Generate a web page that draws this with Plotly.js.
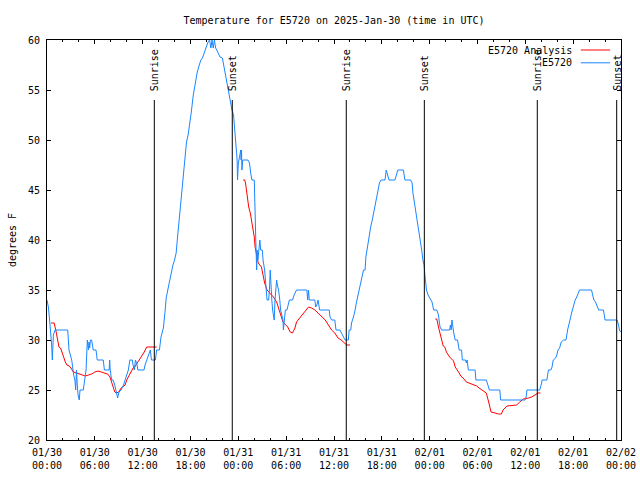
<!DOCTYPE html>
<html>
<head>
<meta charset="utf-8">
<script src="https://cdn.plot.ly/plotly-3.0.1.min.js"></script>
<style>html,body{margin:0;padding:0;background:#fff;}#chart{width:640px;height:480px;}</style>
</head>
<body>
<div id="chart"></div>
<script>
// Hours since 2025-01-30 00:00 UTC
var obsHours = [0.0,0.17,0.33,0.46,0.58,0.67,0.8,1.0,2.6,2.76,2.9,3.1,3.35,3.5,3.6,3.7,3.8,3.9,4.05,4.14,4.55,4.7,4.9,5.06,5.2,5.27,5.35,5.45,5.6,5.8,6.15,6.3,7.06,7.2,7.8,7.86,7.93,8.1,8.3,8.5,8.75,8.86,9.03,9.3,9.6,9.8,10.0,10.2,10.4,10.7,10.8,10.95,11.1,11.3,11.4,12.17,12.3,12.5,12.7,12.96,13.1,13.6,13.75,14.1,14.3,14.6,14.8,14.95,15.2,15.5,15.8,16.0,16.2,16.4,16.65,16.9,17.1,17.3,17.5,17.7,17.9,18.1,18.35,18.6,18.85,19.1,19.3,19.5,19.7,19.95,20.2,20.4,20.55,20.7,20.85,21.0,21.15,21.3,21.5,21.7,22.0,22.2,22.45,22.75,23.0,23.2,23.4,23.5,23.6,23.75,23.85,23.9,24.0,24.15,24.3,24.35,24.4,24.45,24.55,25.2,25.4,25.55,25.7,26.0,26.1,26.2,26.3,26.35,26.45,26.7,26.8,27.0,27.1,27.3,27.5,27.6,27.8,27.9,28.0,28.1,28.2,28.3,28.4,28.5,28.6,28.8,28.9,29.05,29.2,29.3,29.45,29.6,29.65,29.75,29.9,30.1,30.4,30.8,31.0,31.3,32.6,32.7,32.8,32.9,33.6,33.7,33.85,34.0,34.2,35.4,35.5,35.7,36.1,36.25,36.75,37.25,37.4,37.8,37.9,38.1,38.2,38.4,38.6,38.8,39.05,39.3,39.5,39.7,39.9,40.0,40.2,40.4,40.6,40.8,41.0,41.2,41.45,41.7,41.9,42.4,42.55,42.7,42.9,43.65,43.8,44.0,44.7,44.8,44.9,45.6,45.8,45.9,46.1,46.3,46.5,46.6,46.8,47.0,47.15,47.3,47.4,47.5,47.6,47.8,48.05,48.3,48.5,48.9,49.1,49.2,49.3,49.5,50.5,50.6,50.7,50.8,50.9,51.0,51.2,51.5,51.6,51.7,52.0,52.1,52.5,52.6,52.7,52.85,53.7,53.8,55.1,55.3,55.5,56.8,56.9,59.96,60.1,60.2,61.8,62.05,62.1,62.7,62.9,63.2,63.35,63.5,63.8,63.95,64.1,64.3,64.5,64.8,65.1,65.3,65.45,65.6,65.8,65.95,66.1,66.25,66.45,66.6,66.8,68.3,68.45,68.6,68.8,69.0,69.2,69.8,69.9,70.0,71.5,71.7,71.8,71.95];
var obsTemps = [34.0,33.3,32.0,31.0,29.5,28.0,30.5,31.0,31.0,29.0,28.5,28.0,26.5,26.0,25.0,27.0,25.5,24.5,24.0,25.0,25.0,26.0,27.0,30.0,29.0,29.8,29.2,30.0,30.0,29.0,29.0,28.0,28.0,27.0,27.0,28.0,27.0,26.0,26.0,25.5,24.5,24.2,24.8,25.0,25.5,26.0,26.5,27.0,28.0,28.0,27.5,27.0,28.0,27.5,27.0,27.0,27.5,28.0,28.5,29.0,28.0,28.0,29.0,29.0,30.3,31.2,32.8,34.2,35.2,36.5,37.5,38.0,38.7,40.5,42.5,44.5,46.5,48.2,49.8,50.5,51.5,52.8,54.5,55.8,56.8,57.5,58.0,58.2,58.7,59.2,59.8,60.0,59.2,60.0,59.2,60.0,59.2,59.0,58.7,58.3,58.2,57.3,56.2,55.2,53.8,53.0,52.5,51.5,50.5,49.5,48.0,46.0,47.7,48.3,49.0,48.0,49.0,47.0,48.0,48.0,47.7,46.7,46.0,46.0,43.8,39.7,37.0,39.0,38.0,40.0,39.0,39.0,38.0,37.0,35.0,34.0,34.0,35.0,37.0,35.0,34.0,33.0,32.3,32.0,34.0,36.0,35.5,35.0,34.0,33.0,32.5,32.0,31.0,32.0,33.0,33.0,34.0,34.0,34.5,35.0,35.0,34.0,35.0,34.0,34.0,33.3,33.5,34.0,33.0,33.0,32.3,32.0,32.0,31.0,31.0,30.2,30.0,30.0,31.0,31.0,31.7,32.2,32.8,33.7,34.7,35.5,36.5,37.0,37.0,38.3,39.3,40.5,41.3,42.0,42.8,43.7,44.7,45.7,46.0,46.0,47.0,46.5,46.0,46.0,46.5,47.0,47.0,46.5,46.0,46.0,45.7,44.7,43.7,42.7,41.8,41.0,40.0,39.0,38.0,37.5,36.5,35.7,35.0,34.5,34.2,33.8,33.0,33.0,32.5,32.0,31.3,31.0,31.0,31.5,31.0,32.0,31.0,30.8,30.0,30.0,29.5,29.0,29.0,28.0,28.0,27.7,28.0,27.0,27.0,26.0,26.0,25.5,25.0,25.0,24.0,24.0,24.3,25.0,25.0,25.7,26.0,26.0,27.0,27.0,27.3,28.0,28.2,28.5,29.0,29.2,29.8,30.0,30.0,31.0,31.7,32.0,32.7,33.2,33.7,34.0,34.3,34.7,35.0,35.0,34.3,34.0,33.8,33.3,33.0,33.0,32.3,32.0,32.0,31.5,31.0,30.8];

var anaHours = [0.5,0.9,1.1,1.34,1.5,1.7,1.9,2.1,2.3,2.5,2.8,3.0,3.3,3.7,4.3,4.8,5.2,5.6,6.0,6.4,6.8,7.3,7.6,7.9,8.1,8.3,8.5,8.7,9.0,9.3,9.5,9.8,10.0,10.2,10.5,10.8,11.0,11.4,11.7,11.95,12.2,12.5,12.9,13.3,13.75,null,24.6,24.8,24.9,25.1,25.3,25.5,25.7,25.9,26.0,26.1,26.3,26.5,26.9,27.1,27.3,27.6,28.0,28.4,28.8,29.0,29.2,29.4,29.6,30.2,30.5,30.8,31.1,31.3,31.5,31.7,32.1,32.4,32.8,33.2,33.6,34.0,34.5,34.9,35.3,35.7,36.1,36.5,36.9,37.4,37.6,38.0,null,48.7,48.9,49.1,49.3,49.5,49.7,49.9,50.1,50.5,50.8,51.0,51.2,51.5,51.7,51.9,52.2,52.6,53.0,53.5,53.9,54.2,54.7,55.1,55.4,55.55,55.7,56.2,56.6,57.0,57.2,57.7,58.3,58.9,59.3,59.75,60.4,60.8,61.2,61.6,61.9];
var anaTemps = [31.7,31.7,31.0,30.0,29.3,29.2,28.7,28.2,27.8,27.5,27.4,27.2,26.8,26.7,26.5,26.4,26.5,26.6,26.8,26.9,26.8,26.7,26.6,26.3,25.8,25.3,24.8,24.7,24.8,25.2,25.3,25.5,26.0,26.3,26.7,27.2,27.3,27.8,28.2,28.4,28.8,29.3,29.3,29.3,29.3,null,46.0,46.0,45.7,44.3,43.3,42.7,41.7,41.0,40.3,39.3,38.3,37.7,37.3,36.3,35.7,35.0,34.7,34.3,33.8,33.3,32.7,32.3,31.8,31.3,30.8,30.7,31.2,31.8,32.0,32.3,32.7,33.0,33.3,33.2,33.0,32.7,32.3,32.0,31.5,31.0,30.7,30.2,30.0,29.7,29.5,29.5,null,32.1,32.1,31.3,30.7,30.0,29.4,29.3,28.8,28.3,28.1,27.9,27.3,27.0,26.7,26.4,26.2,25.8,25.7,25.5,25.4,25.2,24.9,24.7,23.8,23.2,22.8,22.7,22.6,22.6,23.0,23.4,23.45,23.5,23.8,24.1,24.2,24.3,24.5,24.7,24.7];

var sunHours = [13.46, 23.24, 37.54, 47.33, 61.50, 71.46];
var sunLabels = ["Sunrise", "Sunset", "Sunrise", "Sunset", "Sunrise", "Sunset"];

var tickHours = [0, 6, 12, 18, 24, 30, 36, 42, 48, 54, 60, 66, 72];
var tickLabels = ["01/30<br>00:00","01/30<br>06:00","01/30<br>12:00","01/30<br>18:00","01/31<br>00:00","01/31<br>06:00","01/31<br>12:00","01/31<br>18:00","02/01<br>00:00","02/01<br>06:00","02/01<br>12:00","02/01<br>18:00","02/02<br>00:00"];

var seriesNames = ["E5720 Analysis", "E5720"];
var RED = "#ff0000", BLUE = "#1a86ff";
var FONT = "DejaVu Sans Mono, Liberation Mono, monospace";

var traces = [
  {x: anaHours, y: anaTemps, type: "scatter", mode: "lines", name: seriesNames[0],
   line: {color: RED, width: 1}, connectgaps: false},
  {x: obsHours, y: obsTemps, type: "scatter", mode: "lines", name: seriesNames[1],
   line: {color: BLUE, width: 1}}
];

var shapes = [];
var annotations = [];
for (var i = 0; i < sunHours.length; i++) {
  shapes.push({type: "line", xref: "x", yref: "y", x0: sunHours[i], x1: sunHours[i], y0: 20, y1: 54,
               line: {color: "#000", width: 1}});
  annotations.push({x: sunHours[i], y: 54.7, xref: "x", yref: "y", text: sunLabels[i], textangle: -90,
                    showarrow: false, xanchor: "center", yanchor: "bottom",
                    font: {family: FONT, size: 10, color: "#000"}});
}
// gnuplot-style key: text right-aligned, then a line sample
var keyY = [0.975, 0.943];
var keyColors = [RED, BLUE];
for (var k = 0; k < seriesNames.length; k++) {
  annotations.push({x: 0.918, y: keyY[k], xref: "paper", yref: "paper", text: seriesNames[k],
                    showarrow: false, xanchor: "right", yanchor: "middle",
                    font: {family: FONT, size: 10, color: "#000"}});
  shapes.push({type: "line", xref: "paper", yref: "paper", x0: 0.930, x1: 0.981, y0: keyY[k], y1: keyY[k],
               line: {color: keyColors[k], width: 1}});
}

var layout = {
  width: 640, height: 480,
  margin: {l: 47, r: 19, t: 40, b: 40},
  paper_bgcolor: "#fff", plot_bgcolor: "#fff",
  showlegend: false,
  font: {family: FONT, size: 10, color: "#000"},
  title: {text: "Temperature for E5720 on 2025-Jan-30 (time in UTC)", x: 0.5, xref: "paper",
          y: 1 - 20/480, yref: "container", yanchor: "middle", font: {family: FONT, size: 10, color: "#000"}},
  xaxis: {range: [0, 72], tickmode: "array", tickvals: tickHours, ticktext: tickLabels,
          ticks: "inside", ticklen: 4, tickwidth: 1, tickcolor: "#000", ticklabelstandoff: 3,
          minor: {tickmode: "linear", tick0: 0, dtick: 2, ticks: "inside", ticklen: 2, tickcolor: "#000", showgrid: false},
          showline: true, linecolor: "#000", linewidth: 1, mirror: "ticks",
          showgrid: false, zeroline: false, tickfont: {family: FONT, size: 10, color: "#000"}},
  yaxis: {range: [20, 60], dtick: 5, tick0: 20, ticks: "inside", ticklen: 4, tickwidth: 1, tickcolor: "#000",
          ticklabelstandoff: 4,
          showline: true, linecolor: "#000", linewidth: 1, mirror: "ticks",
          showgrid: false, zeroline: false, tickfont: {family: FONT, size: 10, color: "#000"},
          title: {text: "degrees F", font: {family: FONT, size: 10, color: "#000"}, standoff: 9}},
  shapes: shapes,
  annotations: annotations
};

Plotly.newPlot("chart", traces, layout, {staticPlot: true, displayModeBar: false});
</script>
</body>
</html>
